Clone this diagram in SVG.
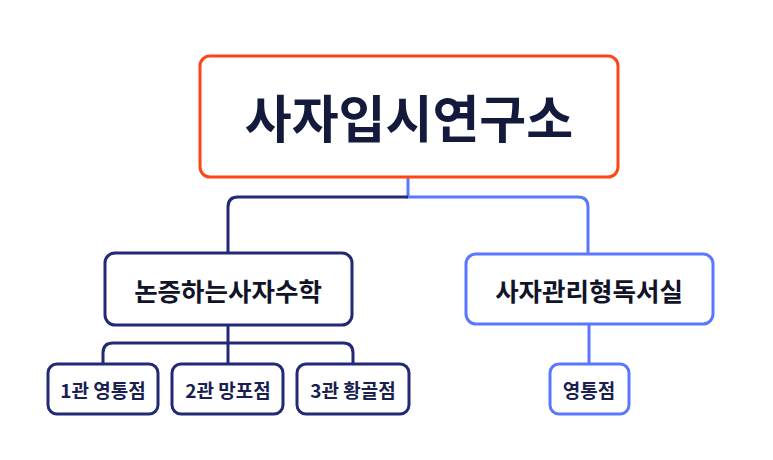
<svg xmlns="http://www.w3.org/2000/svg" width="773" height="460" viewBox="0 0 773 460">
<style>
text{font-family:"Noto Sans CJK KR","Noto Sans",sans-serif;font-weight:700;fill:#111428;text-anchor:middle;dominant-baseline:central}
.n{fill:#fff;stroke:#222a78;stroke-width:3}
.b{fill:#fff;stroke:#5a78ff;stroke-width:3}
.cn{fill:none;stroke:#222a78;stroke-width:3}
.cb{fill:none;stroke:#5a78ff;stroke-width:3}
</style>
<rect width="773" height="460" fill="#fff"/>
<g id="connectors">
<path class="cb" d="M408 177V197H578Q588 197 588 207V254"/>
<path class="cn" d="M408 197H238Q228 197 228 207V253"/>
<path class="cn" d="M228 325V364M103 364V353Q103 343 113 343H343Q353 343 353 353V364"/>
<path class="cb" d="M589 324V364"/>
</g>
<g id="root"><rect x="200" y="56" width="418" height="121" rx="10" fill="#fff" stroke="#ff4418" stroke-width="3"/><text x="409" y="116" font-size="51" style="fill:#141a3c">사자입시연구소</text></g>
<g id="n1"><rect class="n" x="105" y="253" width="247" height="72" rx="10"/><text x="228" y="289" font-size="25.5">논증하는사자수학</text></g>
<g id="n2"><rect class="b" x="466" y="254" width="247" height="70" rx="10"/><text x="589" y="289" font-size="25.5">사자관리형독서실</text></g>
<g id="l1"><rect class="n" x="48" y="364" width="110" height="50" rx="9"/><text x="103" y="389" font-size="19" style="fill:#1a1f50">1관 영통점</text></g>
<g id="l2"><rect class="n" x="172" y="364" width="111" height="50" rx="9"/><text x="228" y="389" font-size="19" style="fill:#1a1f50">2관 망포점</text></g>
<g id="l3"><rect class="n" x="297" y="364" width="112" height="50" rx="9"/><text x="353" y="389" font-size="19" style="fill:#1a1f50">3관 황골점</text></g>
<g id="l4"><rect class="b" x="550" y="364" width="79" height="50" rx="9"/><text x="589" y="389" font-size="19" style="fill:#1a1f50">영통점</text></g>
</svg>
